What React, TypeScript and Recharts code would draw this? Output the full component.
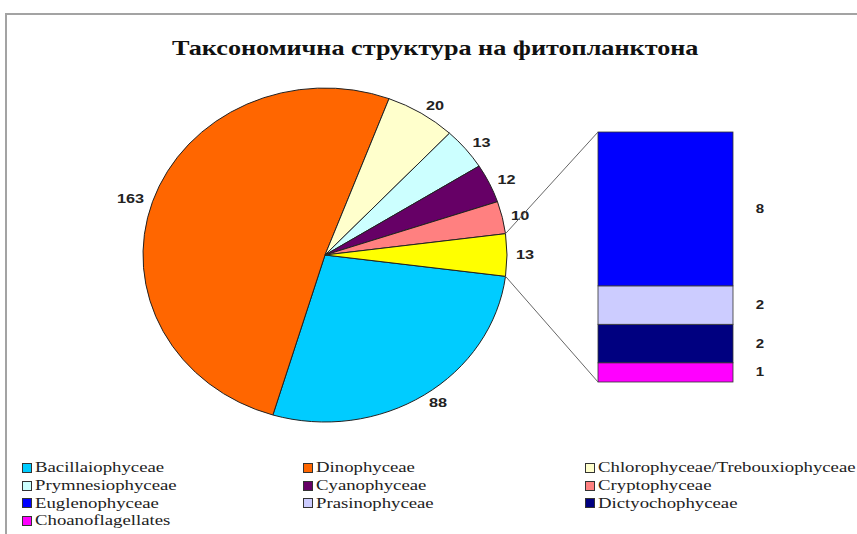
import { PieChart, Pie, Cell, Sector, BarChart, Bar, XAxis, YAxis, Legend } from "recharts";

const title = "Таксономична структура на фитопланктона";

const pieNames = [
  "Bacillaiophyceae",
  "Dinophyceae",
  "Chlorophyceae/Trebouxiophyceae",
  "Prymnesiophyceae",
  "Cyanophyceae",
  "Cryptophyceae",
  "Other",
];
const pieValues = [88, 163, 20, 13, 12, 10, 13];
const pieColors = ["#00CCFF", "#FF6600", "#FFFFCC", "#CCFFFF", "#660066", "#FF8080", "#FFFF00"];

// bar of pie, top to bottom
const barNames = ["Euglenophyceae", "Prasinophyceae", "Dictyochophyceae", "Choanoflagellates"];
const barValues = [8, 2, 2, 1];
const barColors = ["#0000FF", "#CCCCFF", "#000080", "#FF00FF"];

const legendNames = [...pieNames.slice(0, 6), ...barNames];
const legendColors = [...pieColors.slice(0, 6), ...barColors];

const W = 857;
const H = 534;
const CX = 325;
const CY = 255;
const RX = 182;
const RY = 167;
const SY = RY / RX;
const STRETCH = 1.25;
const SERIF = "'Liberation Serif', 'Times New Roman', serif";
const SANS = "'Liberation Sans', Arial, sans-serif";

const pieData = pieNames.map((name, i) => ({ name, value: pieValues[i] }));
const total = pieValues.reduce((a, b) => a + b, 0);
const otherSpan = (pieValues[pieValues.length - 1] / total) * 360;
const START = -otherSpan / 2;

const barRow: Record<string, number | string> = { name: "Other" };
barNames.forEach((n, i) => (barRow[n] = barValues[i]));
const barData = [barRow];
const barSum = barValues.reduce((a, b) => a + b, 0);

const RAD = Math.PI / 180;
const piePoint = (deg: number, pad = 0) => ({
  x: CX + (RX + pad) * Math.cos(deg * RAD),
  y: CY - (RY + pad) * Math.sin(deg * RAD),
});

// the pie in the picture is a little wider than tall
const pieShape = (props: any) => (
  <g transform={`translate(${CX},${CY}) scale(1,${SY}) translate(${-CX},${-CY})`}>
    <Sector {...props} vectorEffect="non-scaling-stroke" />
  </g>
);

const pieLabel = (props: any) => {
  const { midAngle, value } = props;
  const { x, y } = piePoint(midAngle, 9);
  const anchor = Math.cos(midAngle * RAD) < 0 ? "end" : "start";
  return (
    <text
      transform={`translate(${x},${y}) scale(${STRETCH},1)`}
      textAnchor={anchor}
      dominantBaseline="central"
      fontFamily={SANS}
      fontWeight="bold"
      fontSize={13}
      fill="#222"
    >
      {value}
    </text>
  );
};

const makeBarLabel = (value: number) => (props: any) => {
  const { x, y, width, height } = props;
  return (
    <text
      transform={`translate(${x + width + 27},${y + height / 2}) scale(${STRETCH},1)`}
      textAnchor="middle"
      dominantBaseline="central"
      fontFamily={SANS}
      fontWeight="bold"
      fontSize={12}
      fill="#222"
    >
      {value}
    </text>
  );
};

const makeShape = (connect: "top" | "bottom" | null) => (props: any) => {
  const { x, y, width, height, fill } = props;
  const p = piePoint(connect === "top" ? otherSpan / 2 : -otherSpan / 2);
  return (
    <g>
      <rect x={x} y={y} width={width} height={height} fill={fill} stroke="#333" strokeWidth={0.8} />
      {connect === "top" && <line x1={p.x} y1={p.y} x2={x} y2={y} stroke="#666" strokeWidth={1} />}
      {connect === "bottom" && (
        <line x1={p.x} y1={p.y} x2={x} y2={y + height} stroke="#666" strokeWidth={1} />
      )}
    </g>
  );
};

const LegendGrid = () => (
  <div
    style={{
      display: "grid",
      gridTemplateColumns: "281px 282px 270px",
      gridAutoRows: "17.7px",
      fontFamily: SERIF,
      fontSize: 15,
      color: "#222",
    }}
  >
    {legendNames.map((n, i) => (
      <div key={n} style={{ display: "flex", alignItems: "center", whiteSpace: "nowrap" }}>
        <span
          style={{
            display: "inline-block",
            width: 8,
            height: 8,
            background: legendColors[i],
            border: "1px solid #333",
            marginRight: 3,
          }}
        />
        <span
          style={{
            display: "inline-block",
            transform: `scaleX(${STRETCH})`,
            transformOrigin: "left center",
          }}
        >
          {n}
        </span>
      </div>
    ))}
  </div>
);

export default function App() {
  return (
    <div
      style={{
        position: "absolute",
        left: 0,
        top: 0,
        width: W,
        height: H,
        overflow: "hidden",
        background: "#fff",
      }}
    >
      <div
        style={{
          position: "absolute",
          left: 5,
          top: 13,
          width: 1000,
          height: 1000,
          border: "2px solid #a3a3a3",
        }}
      />
      <div
        style={{
          position: "absolute",
          left: 0,
          width: 870,
          top: 35,
          textAlign: "center",
          fontFamily: SERIF,
          fontWeight: "bold",
          fontSize: 22,
          color: "#111",
        }}
      >
        <span style={{ display: "inline-block", transform: "scaleX(1.19)" }}>{title}</span>
      </div>
      <div style={{ position: "absolute", left: 0, top: 0 }}>
        <PieChart width={W} height={H} margin={{ top: 0, right: 0, bottom: 0, left: 0 }}>
          <Pie
            data={pieData}
            dataKey="value"
            nameKey="name"
            cx={CX}
            cy={CY}
            outerRadius={RX}
            startAngle={START}
            endAngle={START - 360}
            stroke="#222"
            strokeWidth={1}
            shape={pieShape}
            label={pieLabel}
            labelLine={false}
            isAnimationActive={false}
          >
            {pieData.map((d, i) => (
              <Cell key={d.name} fill={pieColors[i]} />
            ))}
          </Pie>
          <Legend
            content={<LegendGrid />}
            wrapperStyle={{ position: "absolute", left: 22, top: 459, width: 835 }}
          />
        </PieChart>
      </div>
      <div style={{ position: "absolute", left: 0, top: 0 }}>
        <BarChart
          width={W}
          height={H}
          data={barData}
          margin={{ top: 132, right: 124, bottom: 152, left: 598 }}
          barCategoryGap={0}
        >
          <XAxis dataKey="name" hide />
          <YAxis type="number" domain={[0, barSum]} hide />
          {[...barNames].reverse().map((n) => {
            const i = barNames.indexOf(n);
            const connect = i === 0 ? "top" : i === barNames.length - 1 ? "bottom" : null;
            return (
              <Bar
                key={n}
                dataKey={n}
                stackId="a"
                fill={barColors[i]}
                shape={makeShape(connect)}
                label={makeBarLabel(barValues[i])}
                isAnimationActive={false}
              />
            );
          })}
        </BarChart>
      </div>
    </div>
  );
}
